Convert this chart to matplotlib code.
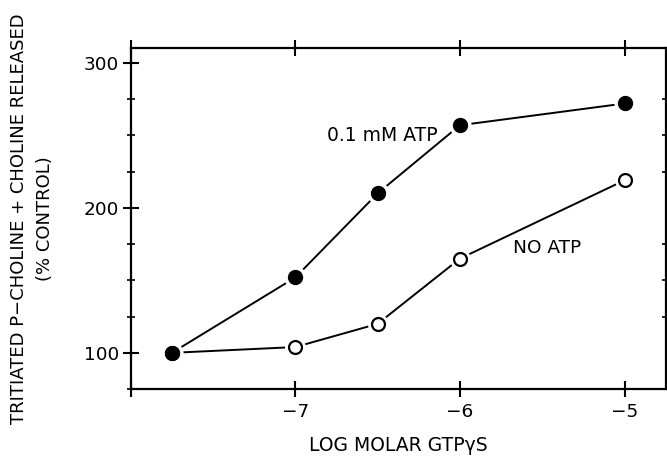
import matplotlib
matplotlib.use("Agg")
import matplotlib.pyplot as plt
from matplotlib.ticker import MultipleLocator, FixedLocator

plt.rcParams['font.family'] = ['DejaVu Sans']

# data
log_gtp = [-7.75, -7.0, -6.5, -6.0, -5.0]
with_atp = [100, 152, 210, 257, 272]
no_atp = [100, 104, 120, 165, 219]

xtick_pos = [-8, -7, -6, -5]
xtick_labels = ['', '\u22127', '\u22126', '\u22125']
ytick_pos = [100, 200, 300]

fig = plt.figure(figsize=(6.67, 4.61), dpi=100)
ax = fig.add_axes([0.196, 0.156, 0.802, 0.739])

# lines first, then white halos so the line stops short of each marker
ax.plot(log_gtp, with_atp, color='black', lw=1.4, zorder=1)
ax.plot(log_gtp, no_atp, color='black', lw=1.4, zorder=1)
ax.plot(log_gtp, with_atp, ls='none', marker='o', ms=15, mfc='white', mec='white', zorder=2)
ax.plot(log_gtp, no_atp, ls='none', marker='o', ms=14, mfc='white', mec='white', zorder=2)
ax.plot(log_gtp, no_atp, ls='none', marker='o', ms=9.3, mfc='white', mec='black', mew=1.6, zorder=3)
ax.plot(log_gtp, with_atp, ls='none', marker='o', ms=10, mfc='black', mec='black', zorder=4)

ax.text(-6.47, 250, '0.1 mM ATP', fontsize=13.5, ha='center', va='center')
ax.text(-5.47, 172, 'NO ATP', fontsize=13.3, ha='center', va='center')

ax.set_xlim(-8.0, -4.75)
ax.set_ylim(75, 310)

ax.xaxis.set_major_locator(FixedLocator(xtick_pos))
ax.set_xticklabels(xtick_labels)
ax.yaxis.set_major_locator(FixedLocator(ytick_pos))
ax.yaxis.set_minor_locator(MultipleLocator(25))

ax.tick_params(axis='x', which='major', direction='inout', length=12, width=1.5,
               top=True, bottom=True, labelsize=13.3, pad=4)
ax.tick_params(axis='y', which='major', direction='inout', length=11, width=1.5,
               left=True, right=False, labelsize=13.3, pad=3)
ax.tick_params(axis='y', which='minor', direction='inout', length=6, width=1.2,
               left=True, right=True)

for s in ax.spines.values():
    s.set_linewidth(1.6)

ax.set_xlabel('LOG MOLAR GTP\u03b3S', fontsize=13.5, va='center')
ax.xaxis.set_label_coords(0.5, -0.167)
ax.set_ylabel('TRITIATED P\u2212CHOLINE + CHOLINE RELEASED\n(% CONTROL)',
              fontsize=13, linespacing=1.6, va='center')
ax.yaxis.set_label_coords(-0.185, 0.5)

fig.savefig('out.png', dpi=100)
